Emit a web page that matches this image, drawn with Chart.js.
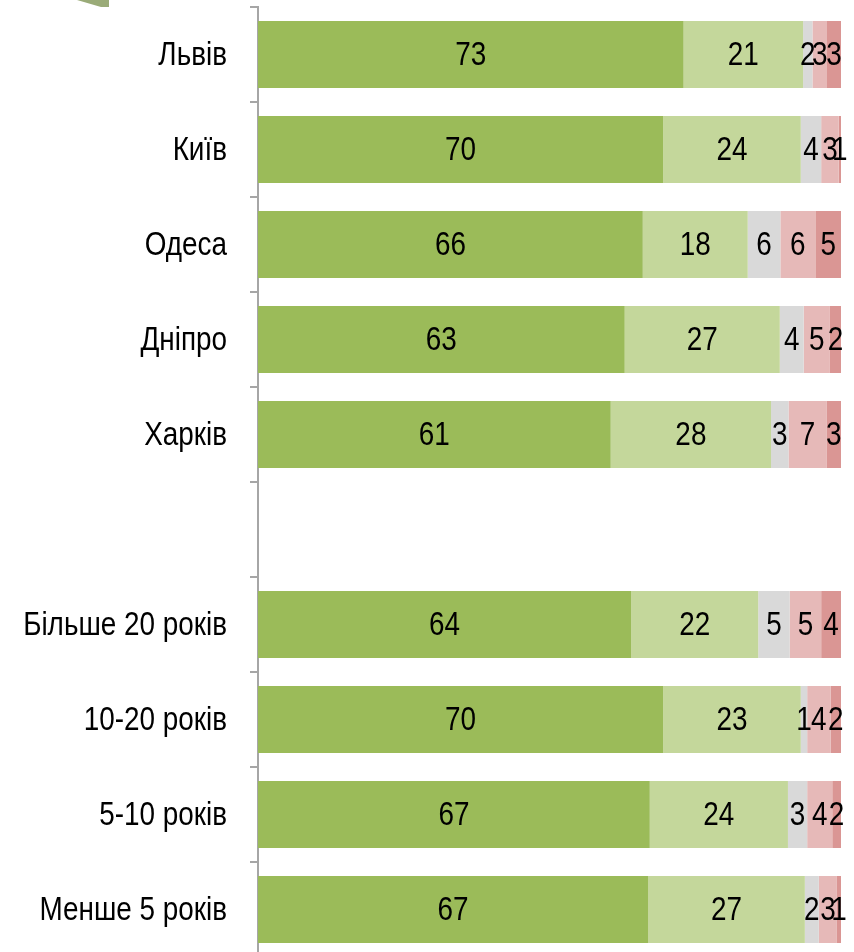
<!DOCTYPE html>
<html>
<head>
<meta charset="utf-8">
<script src="https://cdn.jsdelivr.net/npm/chart.js@4.4.1/dist/chart.umd.min.js"></script>
<style>
html,body{margin:0;padding:0;background:#fff;overflow:hidden;}
#wrap{position:relative;width:854px;height:957px;}
</style>
</head>
<body>
<div id="wrap"><canvas id="c" width="854" height="957"></canvas></div>
<script>
const categories = ["Львів","Київ","Одеса","Дніпро","Харків","","Більше 20 років","10-20 років","5-10 років","Менше 5 років"];

// segment sizes (percent of bar)
const s1 = [73.0, 69.5, 66.0, 62.9, 60.5, null, 64.0, 69.5, 67.2, 66.9];
const s2 = [20.5, 23.6, 18.0, 26.6, 27.5, null, 21.8, 23.6, 23.7, 26.9];
const s3 = [1.6, 3.5, 5.6, 4.1, 3.0, null, 5.4, 1.1, 3.3, 2.4];
const s4 = [2.5, 3.0, 6.0, 4.5, 6.5, null, 5.4, 4.0, 4.3, 3.1];
const s5 = [2.4, 0.4, 4.4, 1.9, 2.5, null, 3.4, 1.8, 1.5, 0.7];

// value labels printed on the segments
const l1 = ["73","70","66","63","61","","64","70","67","67"];
const l2 = ["21","24","18","27","28","","22","23","24","27"];
const l3 = ["2","4","6","4","3","","5","1","3","2"];
const l4 = ["3","3","6","5","7","","5","4","4","3"];
const l5 = ["3","1","5","2","3","","4","2","2","1"];

const colors = ["#9BBB59","#C4D79B","#D9D9D9","#E6B9B8","#DA9694"];
const FONT = "'Liberation Sans',Arial,sans-serif";
const FSIZE = 34;
const NARROW = 0.82;

const series = [s1,s2,s3,s4,s5];
const labelSets = [l1,l2,l3,l4,l5];

function narrowText(ctx, txt, x, y, align){
  ctx.save();
  ctx.translate(x, y);
  ctx.scale(NARROW, 1);
  ctx.textAlign = align;
  ctx.fillText(txt, 0, 0);
  ctx.restore();
}

const labelPlugin = {
  id: 'segLabels',
  afterDatasetsDraw(chart){
    const ctx = chart.ctx;
    ctx.save();
    ctx.font = FSIZE + "px " + FONT;
    ctx.fillStyle = "#000";
    ctx.textBaseline = "middle";
    chart.data.datasets.forEach((ds, di) => {
      const meta = chart.getDatasetMeta(di);
      meta.data.forEach((el, i) => {
        const txt = labelSets[di][i];
        if (!txt || ds.data[i] == null) return;
        const p = el.getProps(['x','y','base'], true);
        narrowText(ctx, txt, (p.x + p.base)/2, p.y + 1, 'center');
      });
    });
    // category labels
    const ys = chart.scales.y;
    chart.data.labels.forEach((lab, i) => {
      if (!lab) return;
      narrowText(ctx, lab, ys.right - 31, ys.getPixelForValue(i) + 1, 'right');
    });
    ctx.restore();
  }
};

const decoPlugin = {
  id: 'deco',
  beforeDraw(chart){
    const ctx = chart.ctx;
    ctx.save();
    ctx.fillStyle = "#fff";
    ctx.fillRect(0,0,chart.width,chart.height);
    ctx.fillStyle = "#9AAB78";
    ctx.beginPath();
    ctx.moveTo(77,0); ctx.lineTo(109,0); ctx.lineTo(109,7); ctx.lineTo(101,7);
    ctx.closePath(); ctx.fill();
    ctx.restore();
  }
};

new Chart(document.getElementById('c'), {
  type: 'bar',
  data: {
    labels: categories,
    datasets: series.map((d, i) => ({
      data: d,
      backgroundColor: colors[i],
      borderWidth: 0,
      barPercentage: 0.705,
      categoryPercentage: 1.0
    }))
  },
  options: {
    indexAxis: 'y',
    responsive: false,
    animation: false,
    devicePixelRatio: 1,
    layout: { padding: { top: 7, right: 13, bottom: 0, left: 0 } },
    plugins: { legend: { display: false }, tooltip: { enabled: false } },
    scales: {
      x: { stacked: true, display: false, min: 0, max: 100 },
      y: {
        stacked: true,
        afterFit(scale){ scale.width = 258; scale.paddingTop = 0; scale.paddingBottom = 0; },
        grid: { offset: true, drawOnChartArea: false, drawTicks: true, tickLength: 8, color: "#A6A6A6", lineWidth: 2 },
        border: { display: true, color: "#A6A6A6", width: 2 },
        ticks: { display: false, autoSkip: false, padding: 0 }
      }
    }
  },
  plugins: [decoPlugin, labelPlugin]
});
</script>
</body>
</html>
